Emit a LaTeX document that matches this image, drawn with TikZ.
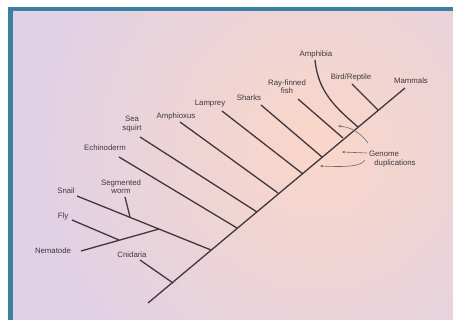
\documentclass[tikz,border=0pt]{standalone}
\usepackage{fontspec}
\setmainfont{Liberation Sans}
\usetikzlibrary{arrows.meta}
\definecolor{teal1}{RGB}{58,128,160}
\definecolor{lav}{RGB}{224,209,230}
\definecolor{peach}{RGB}{250,214,200}
\definecolor{ink}{RGB}{62,56,62}
\definecolor{arr}{RGB}{105,105,118}
\pgfdeclareradialshading{glow}{\pgfpoint{0bp}{0bp}}{color(0bp)=(peach); color(21bp)=(lav); color(50bp)=(lav)}
\begin{document}
\begin{tikzpicture}[x=1pt,y=-1pt,
  br/.style={draw=ink,line width=1.3pt},
  lab/.style={font=\fontsize{7.8}{8.4}\selectfont,text=ink,inner sep=0pt,align=center},
  garr/.style={draw=arr,line width=0.6pt,-{Stealth[length=3pt,width=2.5pt]}}]
\useasboundingbox (0,0) rectangle (453,320);
\fill[white] (0,0) rectangle (453,320);
\fill[teal1] (8,7) rectangle (453,320);
\begin{scope}
\clip (13,12) rectangle (453,320);
\fill[lav] (13,12) rectangle (453,320);
\shade[shading=glow] (318,145) circle (350);
\end{scope}
% trunk
\coordinate (root) at (148,303);
\coordinate (mam) at (405,88);
\coordinate (jcn) at (173,283);
\coordinate (jpr) at (211,250);
\coordinate (jec) at (237,228);
\coordinate (jss) at (257,212);
\coordinate (jam) at (278,193);
\coordinate (jla) at (303,174);
\coordinate (jsh) at (322,157);
\coordinate (jrf) at (343,138);
\coordinate (jaa) at (358,127);
\coordinate (jbr) at (378,110);
% tips
\coordinate (tcn) at (140,260);
\coordinate (tsn) at (77,196);
\coordinate (jsw) at (130,217);
\coordinate (tsw) at (125,197);
\coordinate (jfn) at (159,229);
\coordinate (tne) at (81,251);
\coordinate (jfl) at (119,240);
\coordinate (tfl) at (72,220);
\coordinate (tec) at (119,157);
\coordinate (tss) at (140,137);
\coordinate (tam) at (180,122);
\coordinate (tla) at (222,111);
\coordinate (tsh) at (261,105);
\coordinate (trf) at (298,99);
\coordinate (taa) at (315,60);
\coordinate (tbr) at (352,84);
% branches
\draw[br] (root) -- (mam);
\draw[br] (jcn) -- (tcn);
\draw[br] (jpr) -- (tsn);
\draw[br] (jsw) -- (tsw);
\draw[br] (jfn) -- (tne);
\draw[br] (jfl) -- (tfl);
\draw[br] (jec) -- (tec);
\draw[br] (jss) -- (tss);
\draw[br] (jam) -- (tam);
\draw[br] (jla) -- (tla);
\draw[br] (jsh) -- (tsh);
\draw[br] (jrf) -- (trf);
\draw[br] (jaa) .. controls (336,108) and (318,92) .. (taa);
\draw[br] (jbr) -- (tbr);
% labels
\node[lab] (lcn) at (132,255) {Cnidaria};
\node[lab] (lsn) at (66,191) {Snail};
\node[lab] (lsw) at (121,187) {Segmented\\worm};
\node[lab] (lfl) at (63,216) {Fly};
\node[lab] (lne) at (53,251) {Nematode};
\node[lab] (lec) at (105,148) {Echinoderm};
\node[lab] (lss) at (132,124) {Sea\\squirt};
\node[lab] (lam) at (176,116) {Amphioxus};
\node[lab] (lla) at (210,104) {Lamprey};
\node[lab] (lsh) at (249,98) {Sharks};
\node[lab] (lrf) at (287,87) {Ray-finned\\fish};
\node[lab] (laa) at (316,54) {Amphibia};
\node[lab] (lbr) at (351,77) {Bird/Reptile};
\node[lab] (lma) at (411,81) {Mammals};
\node[lab] (lgd) at (395,159) {\hspace*{-22pt}Genome\\duplications};
% arrows
\coordinate (a1) at (338,126);
\coordinate (a2) at (342,152);
\coordinate (a3) at (320,166);
\draw[garr] (368,143) .. controls (360,132) and (350,127) .. (a1);
\draw[garr] (367,153) -- (a2);
\draw[garr] (365,160) .. controls (360,167) and (345,167) .. (a3);
\end{tikzpicture}
\end{document}
